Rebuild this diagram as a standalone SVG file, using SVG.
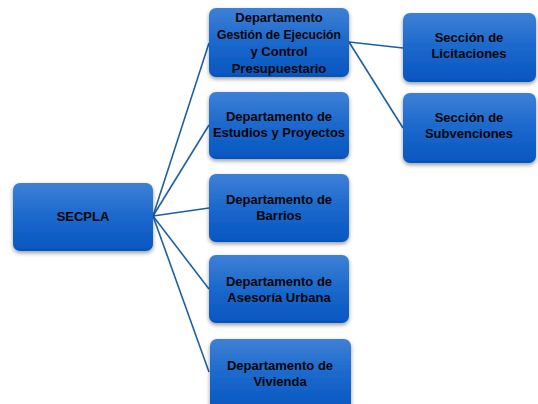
<svg xmlns="http://www.w3.org/2000/svg" width="538" height="404" viewBox="0 0 538 404">
<defs>
<linearGradient id="g" x1="0" y1="0" x2="0" y2="1">
<stop offset="0" stop-color="#3e80d6"/>
<stop offset="0.5" stop-color="#1b68cc"/>
<stop offset="1" stop-color="#0556c0"/>
</linearGradient>
<filter id="sh" x="-10%" y="-10%" width="120%" height="130%">
<feGaussianBlur in="SourceAlpha" stdDeviation="2"/>
<feOffset dx="0" dy="2" result="b"/>
<feComponentTransfer><feFuncA type="linear" slope="0.4"/></feComponentTransfer>
<feMerge><feMergeNode/><feMergeNode in="SourceGraphic"/></feMerge>
</filter>
</defs>
<style>
.box{fill:url(#g);filter:url(#sh);}
.t{font-family:"Liberation Sans",Arial,sans-serif;font-weight:bold;font-size:13px;fill:#050505;text-anchor:middle;}
.c{stroke:#1d5fa6;stroke-width:1.6;fill:none;}
</style>
<rect width="538" height="404" fill="#ffffff"/>
<g id="connectors">
<line class="c" x1="153" y1="216" x2="209" y2="43"/>
<line class="c" x1="153" y1="216" x2="209" y2="125"/>
<line class="c" x1="153" y1="216" x2="209" y2="208"/>
<line class="c" x1="153" y1="216" x2="209" y2="289"/>
<line class="c" x1="153" y1="216" x2="209" y2="372"/>
<line class="c" x1="349" y1="42" x2="403" y2="48"/>
<line class="c" x1="349" y1="42" x2="403" y2="128"/>
</g>
<g id="secpla">
<rect class="box" x="13" y="183" width="140" height="68" rx="7"/>
<text class="t" x="83" y="221">SECPLA</text>
</g>
<g id="dep-gestion">
<rect class="box" x="209" y="8" width="140" height="69" rx="7"/>
<text class="t" x="279" y="22">Departamento</text>
<text class="t" x="279" y="39" textLength="124" lengthAdjust="spacingAndGlyphs">Gestión de Ejecución</text>
<text class="t" x="279" y="56">y Control</text>
<text class="t" x="279" y="73">Presupuestario</text>
</g>
<g id="dep-estudios">
<rect class="box" x="209" y="92" width="140" height="67" rx="7"/>
<text class="t" x="279" y="121">Departamento de</text>
<text class="t" x="279" y="137">Estudios y Proyectos</text>
</g>
<g id="dep-barrios">
<rect class="box" x="209" y="174" width="140" height="68" rx="7"/>
<text class="t" x="279" y="204">Departamento de</text>
<text class="t" x="279" y="220">Barrios</text>
</g>
<g id="dep-asesoria">
<rect class="box" x="209" y="255" width="140" height="68" rx="7"/>
<text class="t" x="279" y="286">Departamento de</text>
<text class="t" x="279" y="302">Asesoría Urbana</text>
</g>
<g id="dep-vivienda">
<rect class="box" x="210" y="339" width="141" height="72" rx="7"/>
<text class="t" x="280" y="370">Departamento de</text>
<text class="t" x="280" y="386">Vivienda</text>
</g>
<g id="sec-licitaciones">
<rect class="box" x="403" y="13" width="133" height="69" rx="7"/>
<text class="t" x="469" y="42">Sección de</text>
<text class="t" x="469" y="58">Licitaciones</text>
</g>
<g id="sec-subvenciones">
<rect class="box" x="403" y="93" width="133" height="70" rx="7"/>
<text class="t" x="469" y="122">Sección de</text>
<text class="t" x="469" y="138">Subvenciones</text>
</g>
</svg>
